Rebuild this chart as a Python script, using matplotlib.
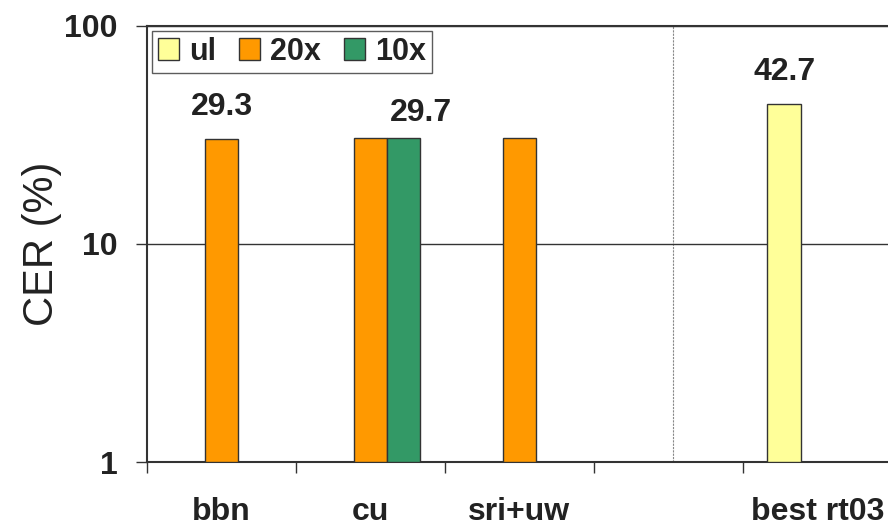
import matplotlib.pyplot as plt
import numpy as np
from matplotlib.patches import Patch

categories = ['bbn', 'cu', 'sri+uw', '', 'best rt03']
series = ['ul', '20x', '10x']
ul = [np.nan, np.nan, np.nan, np.nan, 42.7]
x20 = [29.3, 29.6, 29.5, np.nan, np.nan]
x10 = [np.nan, 29.7, np.nan, np.nan, np.nan]
colors = ['#FFFF99', '#FF9900', '#339966']

# labelled bars: (series index, category index, text)
labels = [(1, 0, '29.3'), (2, 1, '29.7'), (0, 4, '42.7')]
separator = 3.03

plt.rcParams['font.family'] = ['Liberation Sans', 'DejaVu Sans']
dark = '#333333'

fig = plt.figure(figsize=(8.88, 5.28), dpi=100)
ax = fig.add_axes([0.1655, 0.125, 0.839, 0.8258])

x = np.arange(len(categories))
w = 0.2237
vals = [ul, x20, x10]
for i, v in enumerate(vals):
    ax.bar(x + (i - 1) * w, v, w, bottom=1, color=colors[i],
           edgecolor=dark, linewidth=1.0, zorder=3)

ax.set_yscale('log')
ax.set_ylim(1, 100)
ax.set_xlim(-0.5, len(categories) - 0.5)

ax.set_yticks([1, 10, 100])
ax.set_yticklabels(['1', '10', '100'])
ax.yaxis.set_minor_locator(plt.NullLocator())
ax.tick_params(axis='y', length=8, width=1, color=dark, pad=13,
               labelsize=23, labelcolor='#222222')
for t in ax.get_yticklabels():
    t.set_fontweight('bold')

ax.set_xticks(np.arange(len(categories) + 1) - 0.5)
ax.set_xticklabels([])
ax.set_xticks(x, minor=True)
ax.set_xticklabels(categories, minor=True, fontsize=23, fontweight='bold',
                   color='#222222')
ax.tick_params(axis='x', which='major', length=8, width=1, color=dark)
ax.tick_params(axis='x', which='minor', length=0, pad=25)

ax.grid(axis='y', which='major', color=dark, linewidth=1.0, zorder=1)
ax.axvline(separator, color='#888888', linestyle=(0, (2, 1)), linewidth=0.8, zorder=1)

for s in ax.spines.values():
    s.set_color(dark)
    s.set_linewidth(1.5)

ax.set_ylabel('CER (%)', fontsize=30, color='#222222', labelpad=2)

for si, ci, txt in labels:
    xo = 12 if si == 2 else 0
    yo = 20 if si == 2 else 25
    ax.annotate(txt, (x[ci] + (si - 1) * w, vals[si][ci]), xytext=(xo, yo),
                textcoords='offset points', ha='center', va='center',
                fontsize=23, fontweight='bold', color='#222222')

handles = [Patch(facecolor=c, edgecolor=dark, linewidth=1.0) for c in colors]
leg = ax.legend(handles, series, loc='upper left', ncol=3,
                prop={'weight': 'bold', 'size': 22}, frameon=True, fancybox=False,
                edgecolor=dark, handlelength=0.69, handleheight=0.69,
                handletextpad=0.33, columnspacing=0.75, borderpad=0.2,
                borderaxespad=0.15)
leg.get_frame().set_linewidth(1.0)
for t in leg.get_texts():
    t.set_color('#222222')

fig.savefig('out.png', dpi=100)
